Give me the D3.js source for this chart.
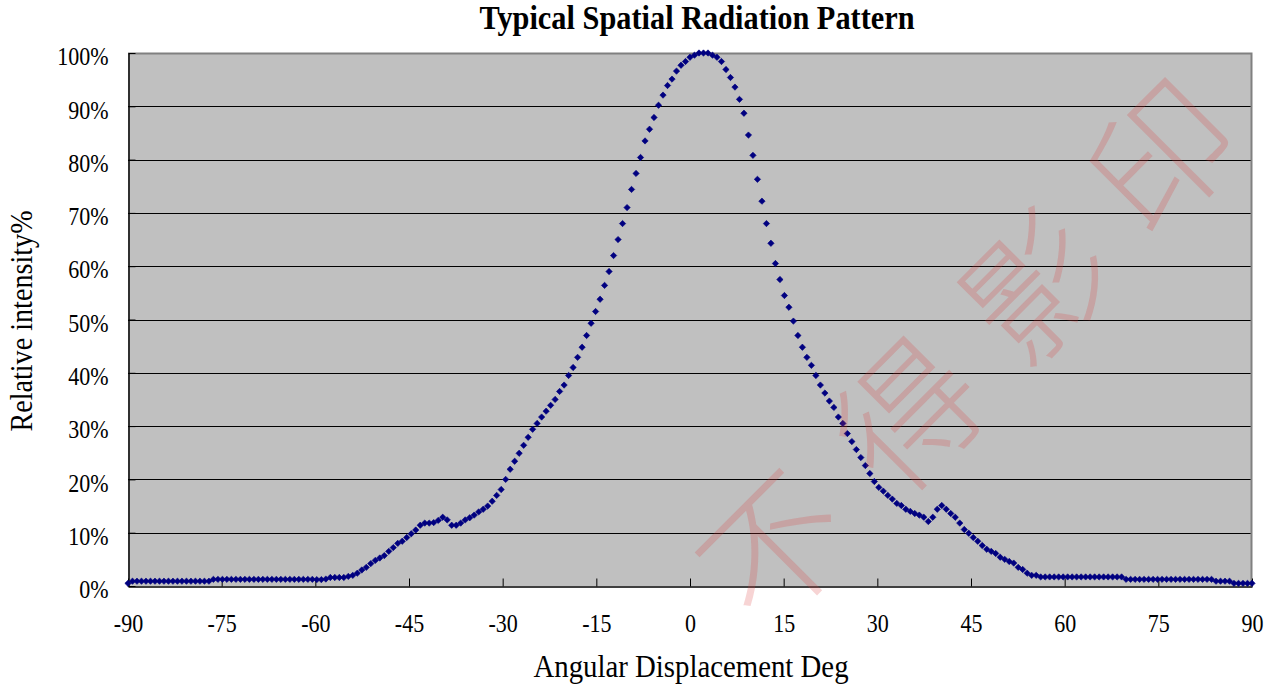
<!DOCTYPE html>
<html>
<head>
<meta charset="utf-8">
<script src="https://cdn.jsdelivr.net/npm/d3@7"></script>
<style>
  html, body { margin: 0; padding: 0; background: #fff; }
  svg { display: block; }
</style>
</head>
<body>
<svg id="chart" width="1277" height="692"></svg>
<script>
// ---------------- data ----------------
const chartTitle = "Typical Spatial Radiation Pattern";
const xTitle = "Angular Displacement Deg";
const yTitle = "Relative intensity%";
const watermark = ["不", "得", "影", "印"];

const xTicks = [-90, -75, -60, -45, -30, -15, 0, 15, 30, 45, 60, 75, 90];
const yTicks = [0, 10, 20, 30, 40, 50, 60, 70, 80, 90, 100];

const angles = [
  -90, -89.28, -88.56, -87.84, -87.12, -86.4, -85.68, -84.96, -84.24, -83.52,
  -82.8, -82.08, -81.36, -80.64, -79.92, -79.2, -78.48, -77.76, -77.04, -76.32,
  -75.6, -74.88, -74.16, -73.44, -72.72, -72, -71.28, -70.56, -69.84, -69.12,
  -68.4, -67.68, -66.96, -66.24, -65.52, -64.8, -64.08, -63.36, -62.64, -61.92,
  -61.2, -60.48, -59.76, -59.04, -58.32, -57.6, -56.88, -56.16, -55.44, -54.72,
  -54, -53.28, -52.56, -51.84, -51.12, -50.4, -49.68, -48.96, -48.24, -47.52,
  -46.8, -46.08, -45.36, -44.64, -43.92, -43.2, -42.48, -41.76, -41.04, -40.32,
  -39.6, -38.88, -38.16, -37.44, -36.72, -36, -35.28, -34.56, -33.84, -33.12,
  -32.4, -31.68, -30.96, -30.24, -29.52, -28.8, -28.08, -27.36, -26.64, -25.92,
  -25.2, -24.48, -23.76, -23.04, -22.32, -21.6, -20.88, -20.16, -19.44, -18.72,
  -18, -17.28, -16.56, -15.84, -15.12, -14.4, -13.68, -12.96, -12.24, -11.52,
  -10.8, -10.08, -9.36, -8.64, -7.92, -7.2, -6.48, -5.76, -5.04, -4.32,
  -3.6, -2.88, -2.16, -1.44, -0.72, 0, 0.72, 1.44, 2.16, 2.88,
  3.6, 4.32, 5.04, 5.76, 6.48, 7.2, 7.92, 8.64, 9.36, 10.08,
  10.8, 11.52, 12.24, 12.96, 13.68, 14.4, 15.12, 15.84, 16.56, 17.28,
  18, 18.72, 19.44, 20.16, 20.88, 21.6, 22.32, 23.04, 23.76, 24.48,
  25.2, 25.92, 26.64, 27.36, 28.08, 28.8, 29.52, 30.24, 30.96, 31.68,
  32.4, 33.12, 33.84, 34.56, 35.28, 36, 36.72, 37.44, 38.16, 38.88,
  39.6, 40.32, 41.04, 41.76, 42.48, 43.2, 43.92, 44.64, 45.36, 46.08,
  46.8, 47.52, 48.24, 48.96, 49.68, 50.4, 51.12, 51.84, 52.56, 53.28,
  54, 54.72, 55.44, 56.16, 56.88, 57.6, 58.32, 59.04, 59.76, 60.48,
  61.2, 61.92, 62.64, 63.36, 64.08, 64.8, 65.52, 66.24, 66.96, 67.68,
  68.4, 69.12, 69.84, 70.56, 71.28, 72, 72.72, 73.44, 74.16, 74.88,
  75.6, 76.32, 77.04, 77.76, 78.48, 79.2, 79.92, 80.64, 81.36, 82.08,
  82.8, 83.52, 84.24, 84.96, 85.68, 86.4, 87.12, 87.84, 88.56, 89.28,
  90
];

const intensity = [
  0.5, 0.9, 0.9, 0.9, 0.9, 0.9, 0.9, 0.9, 0.9, 0.9,
  0.9, 0.9, 0.9, 0.9, 0.9, 0.9, 0.9, 0.9, 0.9, 1.25,
  1.25, 1.25, 1.25, 1.25, 1.25, 1.25, 1.25, 1.25, 1.25, 1.25,
  1.25, 1.25, 1.25, 1.25, 1.25, 1.25, 1.25, 1.25, 1.25, 1.25,
  1.25, 1.25, 1.2, 1.2, 1.3, 1.6, 1.6, 1.6, 1.6, 1.8,
  2.0, 2.4, 3.0, 3.5, 4.2, 4.8, 5.25, 5.7, 6.5, 7.2,
  8.0, 8.4, 9.1, 9.8, 10.5, 11.4, 11.8, 11.8, 11.9, 12.3,
  12.9, 12.4, 11.4, 11.4, 11.8, 12.4, 12.8, 13.3, 13.9, 14.4,
  15.0, 15.9, 17.0, 18.1, 20.0, 21.9, 23.4, 24.9, 26.4, 27.9,
  29.4, 30.5, 31.7, 32.8, 33.9, 35.0, 36.5, 37.7, 39.5, 41.0,
  42.9, 44.8, 47.0, 49.3, 51.5, 53.8, 56.4, 59.0, 62.0, 65.0,
  68.0, 71.0, 74.4, 77.4, 80.4, 83.5, 85.7, 87.9, 90.2, 92.1,
  93.9, 95.1, 96.6, 97.7, 98.4, 99.2, 99.6, 100, 100, 100,
  99.6, 99.2, 98.4, 96.9, 95.4, 93.6, 91.3, 88.7, 84.6, 80.8,
  76.3, 72.2, 68.0, 64.3, 60.5, 57.5, 54.5, 52.3, 49.7, 47.0,
  44.8, 42.9, 41.4, 39.5, 37.7, 36.2, 34.7, 33.5, 31.7, 30.5,
  28.6, 27.1, 25.6, 24.1, 22.6, 21.1, 19.6, 18.5, 17.8, 17.0,
  16.3, 15.5, 15.1, 14.4, 14.0, 13.6, 13.3, 12.9, 12.1, 12.9,
  14.4, 15.1, 14.4, 13.6, 12.9, 11.8, 10.6, 9.9, 9.1, 8.4,
  7.6, 6.9, 6.5, 6.1, 5.4, 5.0, 4.6, 4.3, 3.5, 3.1,
  2.4, 2.0, 2.0, 1.7, 1.7, 1.7, 1.7, 1.7, 1.7, 1.7,
  1.7, 1.7, 1.7, 1.7, 1.7, 1.7, 1.7, 1.7, 1.7, 1.7,
  1.7, 1.7, 1.25, 1.25, 1.25, 1.25, 1.25, 1.25, 1.25, 1.25,
  1.25, 1.25, 1.25, 1.25, 1.25, 1.25, 1.25, 1.25, 1.25, 1.25,
  1.25, 1.25, 0.9, 0.9, 0.9, 0.9, 0.5, 0.5, 0.5, 0.5,
  0.5
];

// ---------------- layout ----------------
const svg = d3.select("#chart");
const plot = { left: 128, top: 53, right: 1252, bottom: 586 };
const serif = "'Liberation Serif', 'Times New Roman', serif";
const squeeze = 0.88;

const x = d3.scaleLinear().domain([-90, 90]).range([plot.left, plot.right]);
const y = d3.scaleLinear().domain([0, 100]).range([plot.bottom, plot.top]);

// plot background
svg.append("rect")
  .attr("x", plot.left).attr("y", plot.top)
  .attr("width", plot.right - plot.left).attr("height", plot.bottom - plot.top)
  .attr("fill", "#c0c0c0");

// gridlines
svg.append("g").selectAll("line")
  .data(yTicks.filter(d => d > 0 && d < 100))
  .join("line")
  .attr("x1", plot.left).attr("x2", plot.right)
  .attr("y1", d => Math.round(y(d)) + 0.5).attr("y2", d => Math.round(y(d)) + 0.5)
  .attr("stroke", "#000").attr("stroke-width", 1);

// plot frame (top/right grey)
svg.append("path")
  .attr("d", `M${plot.left},${plot.top + 0.5}H${plot.right - 0.5}V${plot.bottom}`)
  .attr("fill", "none").attr("stroke", "#808080").attr("stroke-width", 2);

// y axis
const yAxis = svg.append("g")
  .attr("transform", `translate(${plot.left + 0.5},0)`)
  .call(d3.axisLeft(y).tickValues(yTicks).tickFormat(d => d + "%")
    .tickSizeInner(-7).tickSizeOuter(0).tickPadding(20));
yAxis.select(".domain").attr("stroke", "#000").attr("stroke-width", 1.5);
yAxis.selectAll(".tick line").attr("stroke", "#000");
yAxis.selectAll(".tick text")
  .attr("font-family", serif).attr("font-size", 25).attr("fill", "#000")
  .attr("dy", "0.47em")
  .attr("transform", `scale(${squeeze},1)`)
  .attr("x", -20 / squeeze);

// x axis
const xAxis = svg.append("g")
  .attr("transform", `translate(0,${plot.bottom + 0.5})`)
  .call(d3.axisBottom(x).tickValues(xTicks).tickFormat(d => d)
    .tickSizeInner(-8).tickSizeOuter(0).tickPadding(28));
xAxis.select(".domain").attr("stroke", "#000").attr("stroke-width", 1.5);
xAxis.selectAll(".tick line").attr("stroke", "#000");
xAxis.selectAll(".tick text")
  .attr("font-family", serif).attr("font-size", 25).attr("fill", "#000")
  .attr("dy", "0.71em")
  .attr("transform", `scale(${squeeze},1)`)
  .attr("x", 0);

// data points (diamond markers)
const marker = d3.symbol().type(d3.symbolSquare).size(20);
svg.append("g").selectAll("path")
  .data(angles.map((a, i) => [a, intensity[i]]))
  .join("path")
  .attr("d", marker)
  .attr("transform", d => `translate(${x(d[0])},${y(d[1])}) rotate(45)`)
  .attr("fill", "#000080")
  .attr("stroke", "#000080")
  .attr("stroke-width", 0.6);

// titles
svg.append("text")
  .attr("transform", `translate(697,29) scale(0.92,1)`)
  .attr("text-anchor", "middle")
  .attr("font-family", serif).attr("font-weight", "bold").attr("font-size", 33)
  .attr("fill", "#000")
  .text(chartTitle);

svg.append("text")
  .attr("transform", `translate(691,677) scale(0.9,1)`)
  .attr("text-anchor", "middle")
  .attr("font-family", serif).attr("font-size", 32)
  .attr("fill", "#000")
  .text(xTitle);

svg.append("text")
  .attr("transform", `translate(32,321) rotate(-90) scale(${squeeze},1)`)
  .attr("text-anchor", "middle")
  .attr("font-family", serif).attr("font-size", 32)
  .attr("fill", "#000")
  .text(yTitle);

// watermark
const wmPos = [[775, 548], [908, 415], [1036, 286], [1162, 156]];
svg.append("g").selectAll("text")
  .data(watermark)
  .join("text")
  .attr("transform", (d, i) => `translate(${wmPos[i][0]},${wmPos[i][1]}) rotate(-45)`)
  .attr("text-anchor", "middle")
  .attr("dy", "0.38em")
  .attr("font-family", "'Noto Sans CJK TC', 'Noto Sans CJK SC', sans-serif")
  .attr("font-weight", 300)
  .attr("font-size", 140)
  .attr("fill", "rgb(220,60,60)")
  .attr("fill-opacity", 0.22)
  .text(d => d);
</script>
</body>
</html>
